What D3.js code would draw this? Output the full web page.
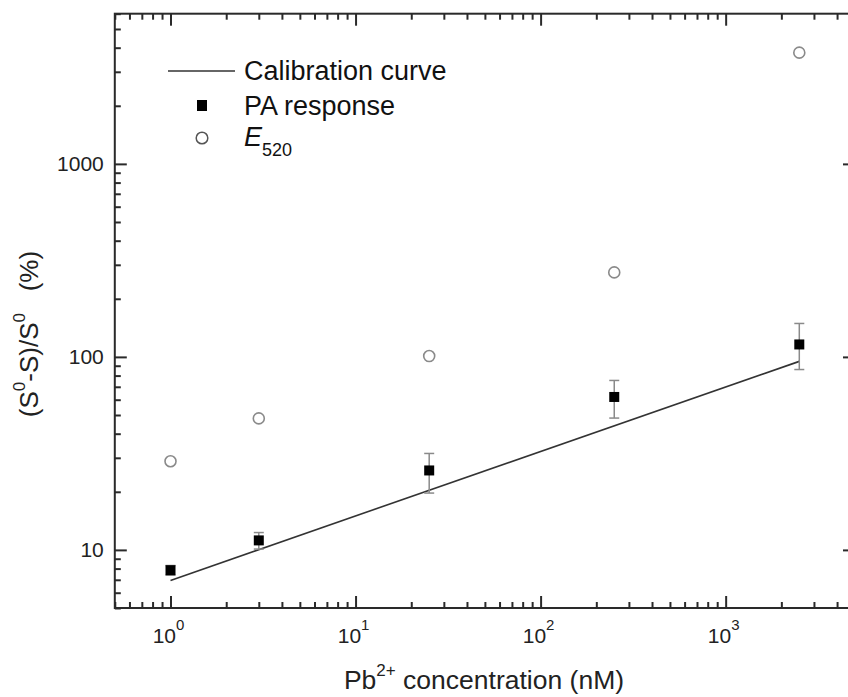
<!DOCTYPE html>
<html>
<head>
<meta charset="utf-8">
<script src="https://cdn.jsdelivr.net/npm/d3@7"></script>
<style>
  html, body { margin: 0; padding: 0; background: #fff; overflow: hidden; }
  svg { display: block; }
</style>
</head>
<body>
<script>
// Pb2+ concentrations (nM)
const concentrations = [1, 3, 25, 250, 2500];
// PA response, mean and error bar ends (%)
const paResponse = [7.85, 11.2, 25.8, 62, 116];
const paUpper = [8.3, 12.3, 31.6, 75.5, 149];
const paLower = [7.4, 10.1, 19.7, 48.2, 86];
// E520 values (%)
const e520 = [28.8, 48, 101, 274, 3770];
// calibration curve end points
const calibX = [1, 2500];
const calibY = [6.95, 94.8];

const xMajor = [1, 10, 100, 1000];
const xMajorExp = ["0", "1", "2", "3"];
const yMajor = [10, 100, 1000];

const width = 848, height = 697;
const margin = { top: 13.7, right: -7, bottom: 89, left: 114.8 };

const svg = d3.select("body").append("svg")
    .attr("width", width)
    .attr("height", height)
    .style("font-family", "Liberation Sans, Arial, sans-serif");

const x = d3.scaleLog()
    .domain([0.5, 5000])
    .range([margin.left, width - margin.right]);

const y = d3.scaleLog()
    .domain([5, 6000])
    .range([height - margin.bottom, margin.top]);

const [x0, x1] = x.range();
const [y0, y1] = y.range();

// minor tick values: 2..9 of every decade inside the domain
function minorTicks(scale) {
    const [lo, hi] = scale.domain();
    const out = [];
    for (let p = -1; p <= 4; p++) {
        for (let m = 2; m <= 9; m++) {
            const v = m * Math.pow(10, p);
            if (v >= lo && v <= hi) out.push(v);
        }
    }
    return out;
}

const frameColor = "#2a2a2a";

function tickAxis(axisFn, scale, values, size, transform) {
    const g = svg.append("g")
        .attr("transform", transform)
        .call(axisFn(scale).tickValues(values).tickSize(size).tickFormat(""));
    g.select(".domain").remove();
    g.selectAll("line").attr("stroke", frameColor).attr("stroke-width", 2);
    return g;
}

// bottom and top ticks (pointing inward)
tickAxis(d3.axisBottom, x, minorTicks(x), -6, `translate(0,${y0})`);
tickAxis(d3.axisBottom, x, xMajor, -12, `translate(0,${y0})`);
tickAxis(d3.axisTop, x, minorTicks(x), -6, `translate(0,${y1})`);
tickAxis(d3.axisTop, x, xMajor, -12, `translate(0,${y1})`);
// left and right ticks
tickAxis(d3.axisLeft, y, minorTicks(y), -6, `translate(${x0},0)`);
tickAxis(d3.axisLeft, y, yMajor, -12, `translate(${x0},0)`);
tickAxis(d3.axisRight, y, minorTicks(y), -6, `translate(${x1},0)`);
tickAxis(d3.axisRight, y, yMajor, -12, `translate(${x1},0)`);

// frame
svg.append("rect")
    .attr("x", x0)
    .attr("y", y1)
    .attr("width", x1 - x0)
    .attr("height", y0 - y1)
    .attr("fill", "none")
    .attr("stroke", frameColor)
    .attr("stroke-width", 2);

// x tick labels 10^n
xMajor.forEach((v, i) => {
    const t = svg.append("text")
        .attr("x", x(v) - 2)
        .attr("y", y0 + 35)
        .attr("text-anchor", "middle")
        .attr("font-size", "21px")
        .attr("fill", "#222");
    t.append("tspan").text("10");
    t.append("tspan")
        .attr("font-size", "15px")
        .attr("dy", "-13")
        .text(xMajorExp[i]);
});

// y tick labels
svg.selectAll(".ylab")
    .data(yMajor)
    .enter()
    .append("text")
    .attr("class", "ylab")
    .attr("x", x0 - 11)
    .attr("y", d => y(d) + 7.5)
    .attr("text-anchor", "end")
    .attr("font-size", "21px")
    .attr("fill", "#222")
    .text(d => d);

// axis titles
const xTitle = svg.append("text")
    .attr("x", 484)
    .attr("y", 689)
    .attr("text-anchor", "middle")
    .attr("font-size", "26.5px")
    .attr("fill", "#222");
xTitle.append("tspan").text("Pb");
xTitle.append("tspan").attr("font-size", "17px").attr("dy", "-13").text("2+");
xTitle.append("tspan").attr("dy", "13").text(" concentration (nM)");

const yTitle = svg.append("text")
    .attr("transform", "translate(38,334) rotate(-90)")
    .attr("text-anchor", "middle")
    .attr("font-size", "26px")
    .attr("fill", "#222");
yTitle.append("tspan").text("(S");
yTitle.append("tspan").attr("font-size", "17px").attr("dy", "-13").text("0");
yTitle.append("tspan").attr("dy", "13").text("-S)/S");
yTitle.append("tspan").attr("font-size", "17px").attr("dy", "-13").text("0");
yTitle.append("tspan").attr("dy", "13").text("\u00a0\u00a0\u00a0(%)");

// calibration curve
const line = d3.line()
    .x(d => x(d[0]))
    .y(d => y(d[1]));

svg.append("path")
    .datum(d3.zip(calibX, calibY))
    .attr("fill", "none")
    .attr("stroke", "#333")
    .attr("stroke-width", 1.6)
    .attr("d", line);

// E520 circles
svg.selectAll(".e520")
    .data(d3.zip(concentrations, e520))
    .enter()
    .append("circle")
    .attr("class", "e520")
    .attr("cx", d => x(d[0]))
    .attr("cy", d => y(d[1]))
    .attr("r", 5.5)
    .attr("fill", "#fff")
    .attr("stroke", "#8a8a8a")
    .attr("stroke-width", 1.6);

// error bars
const errColor = "#8a8a8a";
concentrations.forEach((c, i) => {
    const cx = x(c);
    const g = svg.append("g")
        .attr("stroke", errColor)
        .attr("stroke-width", 1.5);
    g.append("line")
        .attr("x1", cx).attr("x2", cx)
        .attr("y1", y(paUpper[i])).attr("y2", y(paLower[i]));
    [paUpper[i], paLower[i]].forEach(v => {
        g.append("line")
            .attr("x1", cx - 5).attr("x2", cx + 5)
            .attr("y1", y(v)).attr("y2", y(v));
    });
});

// PA response squares
svg.selectAll(".pa")
    .data(d3.zip(concentrations, paResponse))
    .enter()
    .append("rect")
    .attr("class", "pa")
    .attr("x", d => x(d[0]) - 5)
    .attr("y", d => y(d[1]) - 5)
    .attr("width", 10)
    .attr("height", 10)
    .attr("fill", "#000");

// legend
const legend = svg.append("g");
legend.append("line")
    .attr("x1", 168).attr("x2", 235)
    .attr("y1", 71).attr("y2", 71)
    .attr("stroke", "#333")
    .attr("stroke-width", 1.6);
legend.append("text")
    .attr("x", 244).attr("y", 80)
    .attr("font-size", "27px")
    .attr("fill", "#111")
    .text("Calibration curve");

legend.append("rect")
    .attr("x", 197).attr("y", 100)
    .attr("width", 10).attr("height", 11)
    .attr("fill", "#000");
legend.append("text")
    .attr("x", 244).attr("y", 115)
    .attr("font-size", "27px")
    .attr("fill", "#111")
    .text("PA response");

legend.append("circle")
    .attr("cx", 202).attr("cy", 138)
    .attr("r", 5.8)
    .attr("fill", "#fff")
    .attr("stroke", "#555")
    .attr("stroke-width", 1.5);
const eText = legend.append("text")
    .attr("x", 244).attr("y", 146)
    .attr("font-size", "27px")
    .attr("fill", "#111");
eText.append("tspan").attr("font-style", "italic").text("E");
eText.append("tspan").attr("font-size", "18px").attr("dy", "10").text("520");
</script>
</body>
</html>
